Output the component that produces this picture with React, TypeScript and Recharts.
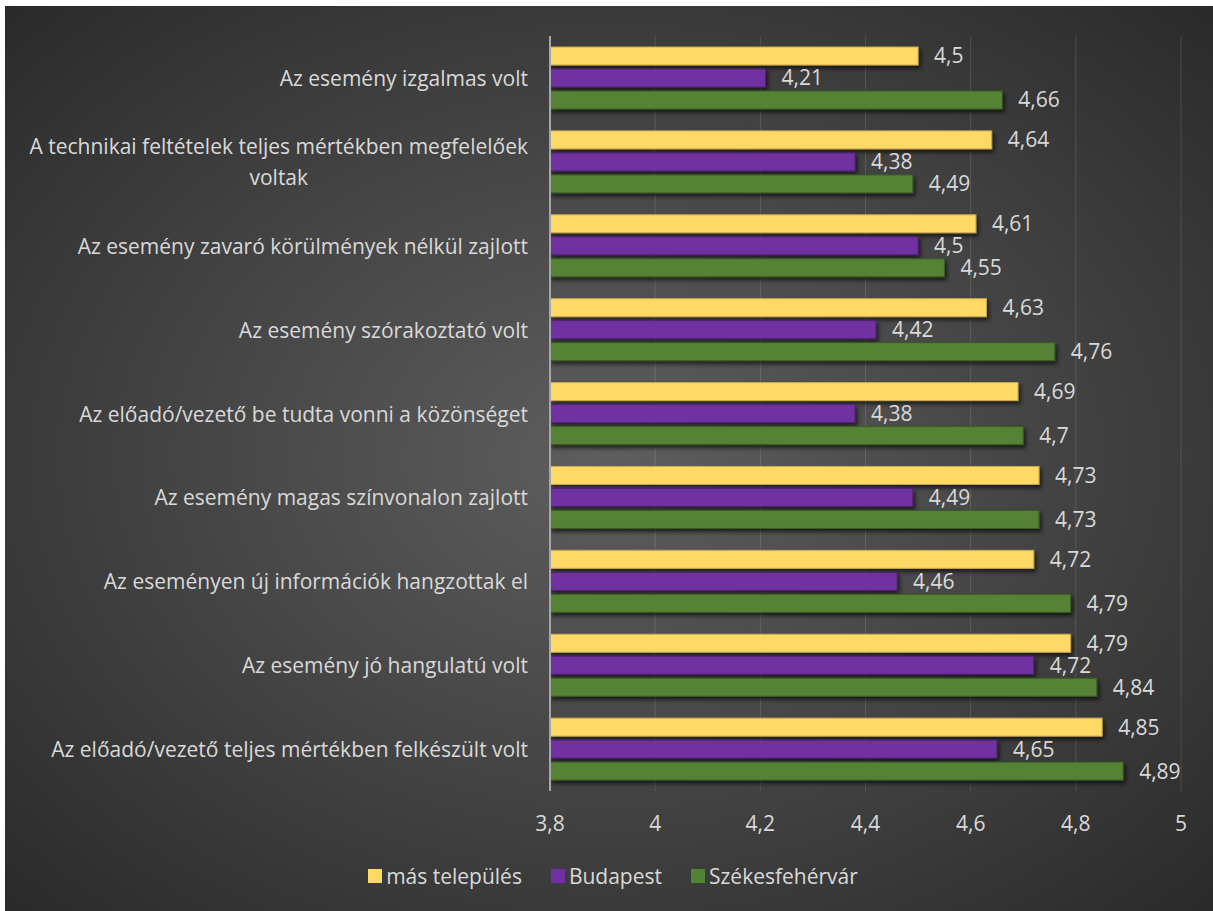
import React from "react";
import {
  BarChart,
  Bar,
  XAxis,
  YAxis,
  CartesianGrid,
  Legend,
  LabelList,
} from "recharts";

const categories = [
  "Az esemény izgalmas volt",
  "A technikai feltételek teljes mértékben megfelelőek voltak",
  "Az esemény zavaró körülmények nélkül zajlott",
  "Az esemény szórakoztató volt",
  "Az előadó/vezető be tudta vonni a közönséget",
  "Az esemény magas színvonalon zajlott",
  "Az eseményen új információk hangzottak el",
  "Az esemény jó hangulatú volt",
  "Az előadó/vezető teljes mértékben felkészült volt",
];

const masTelepules = [4.5, 4.64, 4.61, 4.63, 4.69, 4.73, 4.72, 4.79, 4.85];
const budapest = [4.21, 4.38, 4.5, 4.42, 4.38, 4.49, 4.46, 4.72, 4.65];
const szekesfehervar = [4.66, 4.49, 4.55, 4.76, 4.7, 4.73, 4.79, 4.84, 4.89];

const xTicks = [3.8, 4, 4.2, 4.4, 4.6, 4.8, 5];

const seriesNames = ["más település", "Budapest", "Székesfehérvár"];
const seriesColors = ["#FFD966", "#7030A0", "#548235"];
const seriesStrokes = ["#C9A94C", "#4F2272", "#3B5C25"];

const data = categories.map((c, i) => ({
  name: c,
  mas: masTelepules[i],
  bp: budapest[i],
  szf: szekesfehervar[i],
}));

const FONT = "'Open Sans', 'Noto Sans', sans-serif";
const FS = 21;
const TEXT = "#D9D9D9";

const fmt = (v: number) => String(v).replace(".", ",");

let ctx: CanvasRenderingContext2D | null = null;
function measure(t: string): number {
  if (!ctx) {
    const c = document.createElement("canvas");
    ctx = c.getContext("2d");
  }
  if (!ctx) return t.length * 11;
  ctx.font = `${FS}px ${FONT}`;
  return ctx.measureText(t).width;
}

function wrap(text: string, max: number): string[] {
  const words = text.split(" ");
  const lines: string[] = [];
  let cur = "";
  for (const w of words) {
    const cand = cur ? cur + " " + w : w;
    if (measure(cand) > max && cur) {
      lines.push(cur);
      cur = w;
    } else cur = cand;
  }
  if (cur) lines.push(cur);
  return lines;
}

const YTick = (props: any) => {
  const { x, y, payload } = props;
  const lines = wrap(payload.value, 525);
  const widths = lines.map(measure);
  const block = Math.max(...widths);
  const right = x - 14;
  const cx = right - block / 2;
  const lh = 31;
  const y0 = y - ((lines.length - 1) * lh) / 2;
  return (
    <g>
      {lines.map((l, i) => (
        <text
          key={i}
          x={lines.length > 1 ? cx : right}
          y={y0 + i * lh}
          textAnchor={lines.length > 1 ? "middle" : "end"}
          dominantBaseline="central"
          fill={TEXT}
          fontSize={FS}
          fontFamily={FONT}
        >
          {l}
        </text>
      ))}
    </g>
  );
};

const XTick = (props: any) => {
  const { x, y, payload } = props;
  return (
    <text
      x={x}
      y={y + 24}
      textAnchor="middle"
      dominantBaseline="central"
      fill={TEXT}
      fontSize={FS}
      fontFamily={FONT}
    >
      {fmt(payload.value)}
    </text>
  );
};

const ShadowBar = (props: any) => {
  const { x, y, width, height, fill, stroke } = props;
  if (width == null || height == null) return null;
  return (
    <g>
      <defs>
        <filter id="barShadow" x="-10%" y="-50%" width="130%" height="250%">
          <feDropShadow dx="2" dy="3" stdDeviation="2" floodColor="#000" floodOpacity="0.65" />
        </filter>
      </defs>
      <rect
        x={x}
        y={y}
        width={width}
        height={height}
        fill={fill}
        stroke={stroke}
        strokeWidth={1}
        filter="url(#barShadow)"
      />
    </g>
  );
};

const LegendContent = () => (
  <div
    style={{
      display: "flex",
      justifyContent: "center",
      gap: 29,
      fontFamily: FONT,
      fontSize: FS,
      color: TEXT,
      height: 26,
      alignItems: "center",
      paddingLeft: 40,
    }}
  >
    {seriesNames.map((n, i) => (
      <div key={n} style={{ display: "flex", alignItems: "center" }}>
        <span
          style={{
            display: "inline-block",
            width: 14,
            height: 14,
            background: seriesColors[i],
            marginRight: 4,
          }}
        />
        <span>{n}</span>
      </div>
    ))}
  </div>
);

export default function App() {
  return (
    <div
      style={{
        position: "absolute",
        left: 0,
        top: 0,
        width: 1213,
        height: 911,
        background: "#ffffff",
      }}
    >
      <div
        style={{
          position: "absolute",
          left: 5,
          top: 6,
          width: 1208,
          height: 905,
          background:
            "radial-gradient(ellipse farthest-corner at 50% 50%, #5e5e5e 0%, #474747 45%, #2a2a2a 100%)",
        }}
      >
        <BarChart
          width={1208}
          height={905}
          data={data}
          layout="vertical"
          margin={{ top: 30, right: 32, bottom: 22, left: 0 }}
          barCategoryGap="13%"
          barGap={4}
        >
          <CartesianGrid
            horizontal={false}
            vertical={true}
            stroke="rgba(255,255,255,0.13)"
            strokeWidth={1}
          />
          <XAxis
            type="number"
            domain={[3.8, 5]}
            ticks={xTicks}
            allowDataOverflow
            axisLine={false}
            tickLine={false}
            height={72}
            tick={<XTick />}
            interval={0}
          />
          <YAxis
            type="category"
            dataKey="name"
            width={545}
            axisLine={{ stroke: "#A6A6A6", strokeWidth: 2 }}
            tickLine={false}
            tick={<YTick />}
            interval={0}
          />
          <Legend
            verticalAlign="bottom"
            align="center"
            height={26}
            content={<LegendContent />}
          />
          {(["mas", "bp", "szf"] as const).map((k, i) => (
            <Bar
              key={k}
              dataKey={k}
              name={seriesNames[i]}
              fill={seriesColors[i]}
              stroke={seriesStrokes[i]}
              barSize={18}
              isAnimationActive={false}
              shape={<ShadowBar />}
            >
              <LabelList
                dataKey={k}
                position="right"
                offset={16}
                formatter={(v: any) => fmt(v)}
                fill={TEXT}
                fontSize={FS}
                fontFamily={FONT}
              />
            </Bar>
          ))}
        </BarChart>
      </div>
    </div>
  );
}
